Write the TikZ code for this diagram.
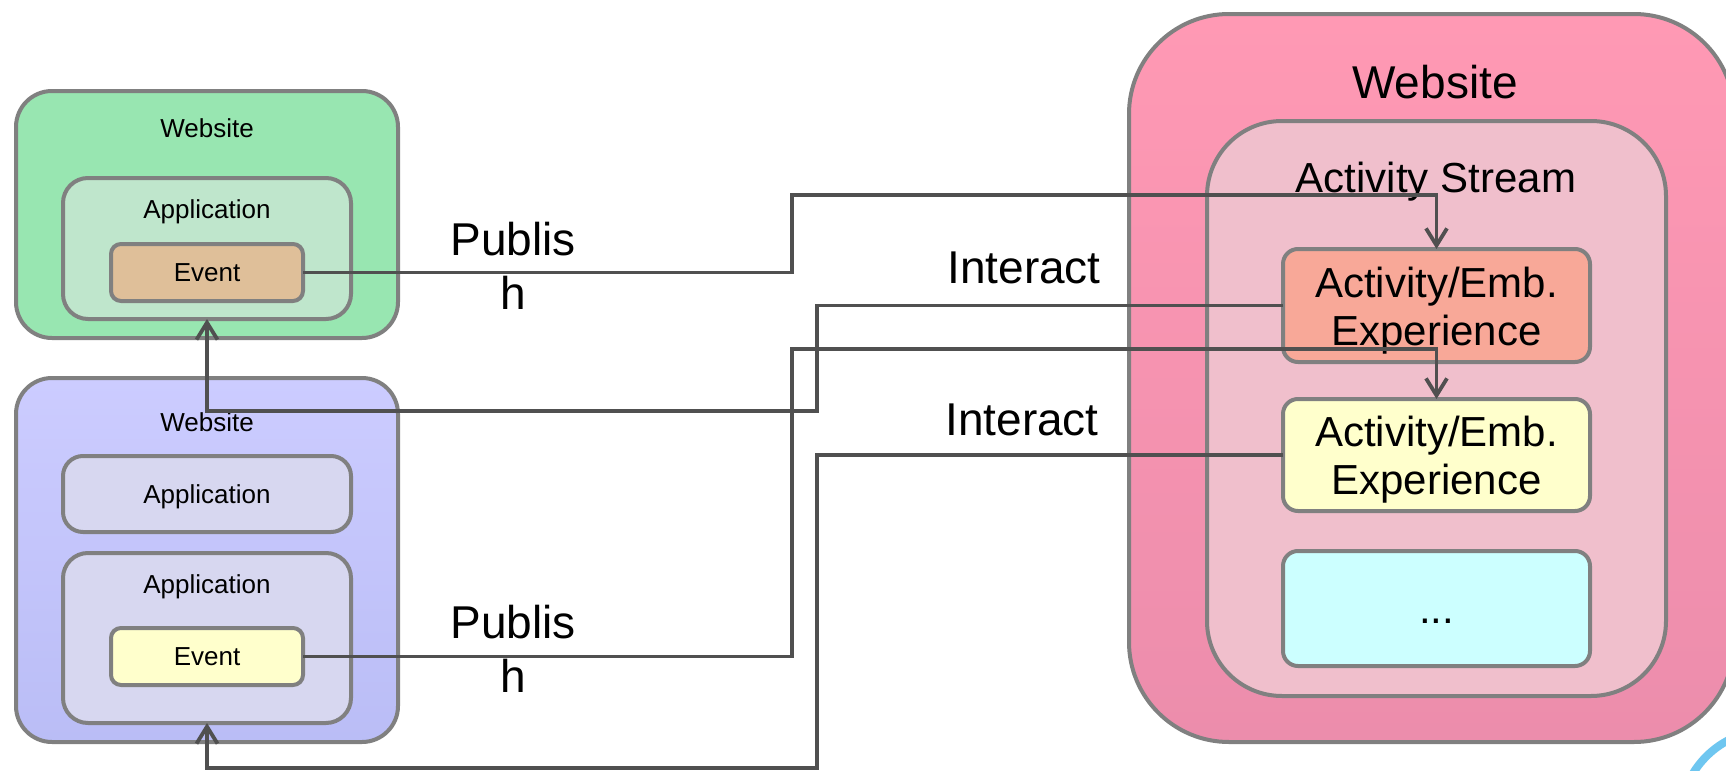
\documentclass[tikz,border=0pt]{standalone}
\usepackage{fontspec}
\setmainfont{Liberation Sans}
\usetikzlibrary{arrows.meta}
\definecolor{bordergray}{RGB}{128,128,128}
\definecolor{linegray}{RGB}{80,80,80}
\definecolor{gwebc}{RGB}{152,230,177}
\definecolor{gappc}{RGB}{191,230,204}
\definecolor{gevtc}{RGB}{223,191,153}
\definecolor{pwebT}{RGB}{204,204,255}
\definecolor{pwebB}{RGB}{186,189,246}
\definecolor{pappc}{RGB}{215,215,240}
\definecolor{yelc}{RGB}{255,255,204}
\definecolor{rwebT}{RGB}{255,153,180}
\definecolor{rwebB}{RGB}{236,141,172}
\definecolor{rstreamc}{RGB}{240,191,204}
\definecolor{act1c}{RGB}{248,168,152}
\definecolor{cyanc}{RGB}{204,255,255}
\definecolor{bgb}{RGB}{206,234,247}
\definecolor{bgm}{RGB}{232,245,251}
\definecolor{ringc}{RGB}{110,198,240}
\pgfdeclareverticalshading{bgshade}{863bp}{color(0bp)=(bgb); color(90bp)=(bgm); color(160bp)=(white); color(385bp)=(white)}
\begin{document}
\begin{tikzpicture}[x=0.5pt,y=-0.5pt,
  box/.style={draw=bordergray, line width=2pt, inner sep=0pt, outer sep=0pt, rounded corners=#1},
  small/.style={font=\fontsize{13}{15.6}\selectfont},
  big/.style={font=\fontsize{23}{27}\selectfont},
  mid/.style={font=\fontsize{21}{24}\selectfont},
  leaf/.style={small, text height=9.4pt, text depth=0pt},
  txt/.style={anchor=base, inner sep=0pt},
  conn/.style={draw=linegray, line width=1.9pt},
  arr/.style={conn, -{Straight Barb[length=8.5pt,width=10.5pt]}},
  actbox/.style={box=7.5pt, mid, minimum width=153.5pt, text height=16pt, text depth=24.5pt}]
\useasboundingbox (0,0) rectangle (1726,771);
\shade[shading=bgshade] (0,0) rectangle (1726,771);
\draw[ringc, line width=4pt] (1770,820) circle[radius=90];

% green website
\node[box=18pt, fill=gwebc, minimum width=191pt, minimum height=123.5pt] (gweb) at (207,214.5) {};
\node[txt, small] (gwebt) at (207,137) {Website};
\node[box=12.5pt, fill=gappc, minimum width=144pt, minimum height=70.5pt] (gapp) at (207,248.5) {};
\node[txt, small] (gappt) at (207,218) {Application};
\node[box=5pt, fill=gevtc, leaf, minimum width=96pt, minimum height=28.5pt] (gevt) at (207,272.5) {Event};

% purple website
\node[box=18pt, top color=pwebT, middle color=pwebT, bottom color=pwebB, minimum width=191pt, minimum height=182pt] (pweb) at (207,560) {};
\node[txt, small] (pwebt) at (207,431) {Website};
\node[box=10pt, fill=pappc, leaf, minimum width=144pt, minimum height=38pt] (papp1) at (207,494) {Application};
\node[box=12.5pt, fill=pappc, minimum width=144pt, minimum height=85pt] (papp2) at (207,638) {};
\node[txt, small] (papp2t) at (207,593) {Application};
\node[box=5pt, fill=yelc, leaf, minimum width=96pt, minimum height=28.5pt] (pevt) at (207,656.5) {Event};

% pink website
\node[box=50pt, top color=rwebT, middle color=rwebT, bottom color=rwebB, minimum width=302.5pt, minimum height=364pt] (rweb) at (1431.5,378) {};
\node[txt, big] (rwebt) at (1435,98) {Website};
\node[box=37.5pt, fill=rstreamc, minimum width=229.5pt, minimum height=287.5pt] (rstream) at (1436.5,408.5) {};
\node[txt, mid] (rstreamt) at (1436,192) {Activity Stream};
\node[actbox, fill=act1c, minimum height=56.5pt] (act1) at (1436.5,305.5) {\begin{tabular}[t]{@{}c@{}}Activity/Emb.\\Experience\end{tabular}};
\node[actbox, fill=yelc, minimum height=56pt] (act2) at (1436.5,455) {\begin{tabular}[t]{@{}c@{}}Activity/Emb.\\Experience\end{tabular}};
\node[box=7.5pt, fill=cyanc, mid, minimum width=153.5pt, minimum height=57.5pt, text height=15pt, text depth=0pt] (act3) at (1436.5,608.5) {...};

% labels
\node[txt, big] (pub1) at (513,255) {\begin{tabular}[t]{@{}c@{}}Publis\\h\end{tabular}};
\node[txt, big] (pub2) at (513,638) {\begin{tabular}[t]{@{}c@{}}Publis\\h\end{tabular}};
\node[txt, big] (int1) at (1024,283) {Interact};
\node[txt, big] (int2) at (1022,435) {Interact};

% connectors
\coordinate (p1) at (792,195);
\coordinate (p2) at (792,349);
\coordinate (c1) at (817,411);
\coordinate (c2) at (817,768);
\draw[arr] (gevt.east) -| (p1) -| (act1.north);
\draw[arr] (act1.west) -| (c1) -| (gapp.south);
\draw[arr] (pevt.east) -| (p2) -| (act2.north);
\draw[arr] (act2.west) -| (c2) -| (papp2.south);
\end{tikzpicture}
\end{document}
